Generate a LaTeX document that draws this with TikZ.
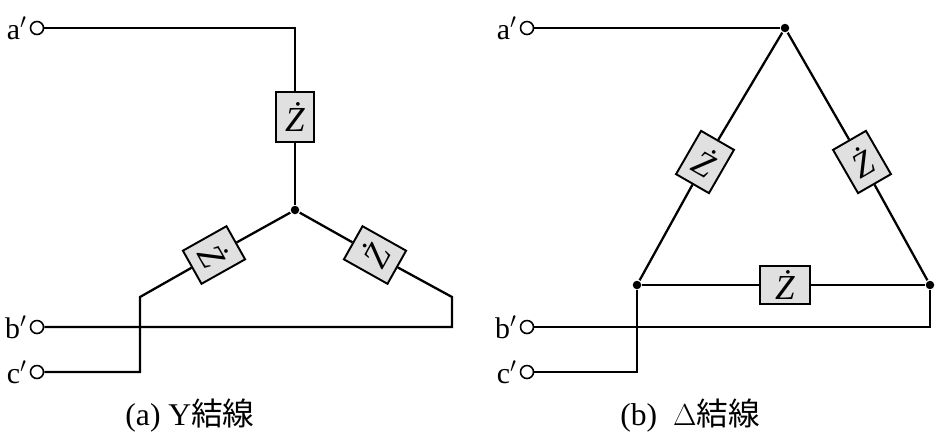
\documentclass[tikz,border=0pt]{standalone}
\usepackage{fontspec}
\setmainfont{Liberation Serif}
\newfontfamily\cjk{Noto Sans CJK JP}
\newcommand{\zdot}{\textit{Ż}}
\begin{document}
\begin{tikzpicture}[x=0.02cm,y=-0.02cm, line width=1.3pt,
	zbox/.style={draw, fill=black!12, minimum width=0.76cm, minimum height=1cm, inner sep=0pt, line width=1.1pt, font=\fontsize{20}{22}\selectfont},
	term/.style={draw, circle, fill=white, minimum size=0.26cm, inner sep=0pt, line width=0.9pt},
	dot/.style={circle, fill=black, minimum size=0.17cm, inner sep=0pt},
	lbl/.style={font=\fontsize{17}{19}\selectfont, anchor=east, inner sep=1pt}]
	\useasboundingbox (0,0) rectangle (946,443);
	% (a) Y
	\node[term] (ta) at (37,28) {};
	\node[term] (tb) at (37,327) {};
	\node[term] (tc) at (37,372) {};
	\node[lbl] at (ta.west) {a$'$};
	\node[lbl] at (tb.west) {b$'$};
	\node[lbl] at (tc.west) {c$'$};
	\coordinate (a1) at (295,28);
	\node[zbox] (za) at (295,117) {\zdot};
	\node[dot] (n) at (295,210) {};
	\node[zbox, rotate=-60.7] (zc) at (214,255) {\zdot};
	\node[zbox, rotate=60.7] (zb) at (375,255) {\zdot};
	\coordinate (c1) at (140,297);
	\coordinate (c2) at (140,372);
	\coordinate (b1) at (452,297);
	\coordinate (b2) at (452,327);
	\draw (ta) -- (a1) -- (za) -- (n);
	\draw (n) -- (zc) -- (c1) -- (c2) -- (tc);
	\draw (n) -- (zb) -- (b1) -- (b2) -- (tb);
	\node[font=\fontsize{18}{20}\selectfont] (capa) at (190,416) {(a)\ Y{\cjk 結線}};
	% (b) Delta
	\node[term] (ta2) at (527,28) {};
	\node[term] (tb2) at (527,327) {};
	\node[term] (tc2) at (527,372) {};
	\node[lbl] at (ta2.west) {a$'$};
	\node[lbl] at (tb2.west) {b$'$};
	\node[lbl] at (tc2.west) {c$'$};
	\node[dot] (top) at (785,28) {};
	\node[dot] (bl) at (637,285) {};
	\node[dot] (br) at (930,285) {};
	\node[zbox, rotate=-30] (zl) at (705,162) {\zdot};
	\node[zbox, rotate=30] (zr) at (862,162) {\zdot};
	\node[zbox, rotate=90] (zm) at (785,285) {\rotatebox{-90}{\zdot}};
	\coordinate (c3) at (637,372);
	\coordinate (b3) at (930,327);
	\draw (ta2) -- (top);
	\draw (top) -- (zl) -- (bl);
	\draw (top) -- (zr) -- (br);
	\draw (bl) -- (zm) -- (br);
	\draw (tb2) -- (b3) -- (br);
	\draw (tc2) -- (c3) -- (bl);
	\node[font=\fontsize{18}{20}\selectfont] (capb) at (690,416) {(b)\ \ $\Delta${\cjk 結線}};
\end{tikzpicture}
\end{document}
